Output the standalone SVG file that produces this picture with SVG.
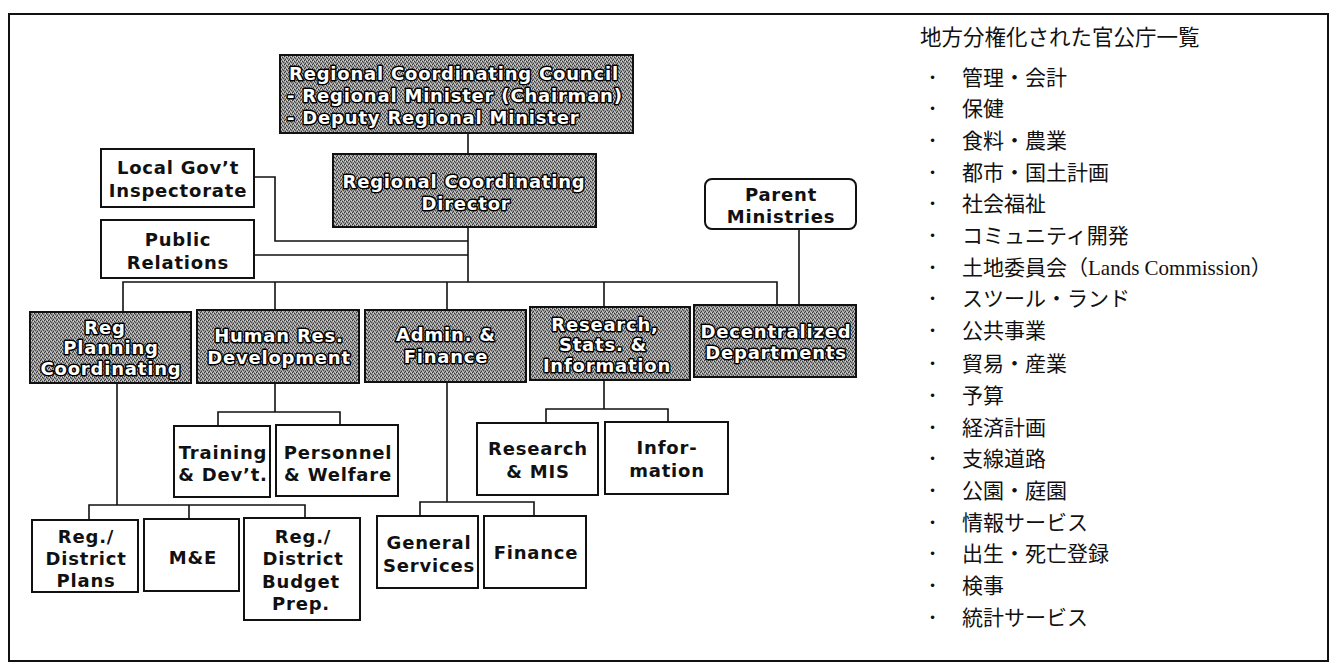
<svg xmlns="http://www.w3.org/2000/svg" width="1335" height="663" viewBox="0 0 1335 663">
<defs>
<pattern id="stip" width="4" height="4" patternUnits="userSpaceOnUse">
<rect width="4" height="4" fill="#959595"/>
<rect x="0" y="0" width="1" height="1" fill="#333"/>
<rect x="2" y="1" width="1" height="1" fill="#333"/>
<rect x="1" y="3" width="1" height="1" fill="#3c3c3c"/>
<rect x="3" y="2" width="1" height="1" fill="#505050"/>
<rect x="1" y="1" width="1" height="1" fill="#d8d8d8"/>
<rect x="3" y="0" width="1" height="1" fill="#d0d0d0"/>
<rect x="2" y="3" width="1" height="1" fill="#c8c8c8"/>
</pattern>
<style>
.dark{fill:url(#stip);stroke:#111;stroke-width:2}
.box{fill:#fff;stroke:#111;stroke-width:2}
.dt{font-family:"DejaVu Sans",Verdana,sans-serif;font-weight:bold;font-size:18px;letter-spacing:0.8px;fill:#fff;stroke:#000;stroke-width:3px;paint-order:stroke;stroke-linejoin:round;text-anchor:middle}
.wt{font-family:"DejaVu Sans",Verdana,sans-serif;font-weight:bold;font-size:18px;letter-spacing:0.8px;fill:#111;text-anchor:middle}
.ln{fill:none;stroke:#111;stroke-width:1.6}
.jp{font-family:"Noto Sans CJK JP",sans-serif;font-size:21px;fill:#111}
.bl{font-family:"DejaVu Sans",sans-serif;font-size:12px;fill:#111}
.lat{font-family:"Liberation Serif","Noto Sans CJK JP",serif;font-size:21px}
</style>
</defs>
<rect x="9" y="14" width="1319" height="647" fill="none" stroke="#111" stroke-width="2"/>

<g id="connectors">
<path class="ln" d="M468 133V154"/>
<path class="ln" d="M468 227V282"/>
<path class="ln" d="M254 177H275V241H468"/>
<path class="ln" d="M254 255H468"/>
<path class="ln" d="M123 312V282H777V305"/>
<path class="ln" d="M275 282V311"/>
<path class="ln" d="M447 282V310"/>
<path class="ln" d="M604 282V307"/>
<path class="ln" d="M799 229V305"/>
<path class="ln" d="M275 384V412"/>
<path class="ln" d="M218 426V412H340V425"/>
<path class="ln" d="M117 383V505"/>
<path class="ln" d="M89 520V505H305V518"/>
<path class="ln" d="M189 505V519"/>
<path class="ln" d="M447 382V502"/>
<path class="ln" d="M420 516V502H534V516"/>
<path class="ln" d="M604 380V409"/>
<path class="ln" d="M546 423V409H668V422"/>
</g>

<g id="council">
<rect class="dark" x="280" y="55" width="353" height="78"/>
<text class="dt" style="text-anchor:start" x="289" y="80">Regional Coordinating Council</text>
<text class="dt" style="text-anchor:start" x="287" y="102">- Regional Minister (Chairman)</text>
<text class="dt" style="text-anchor:start" x="287" y="124">- Deputy Regional Minister</text>
</g>
<g id="director">
<rect class="dark" x="333" y="154" width="263" height="73"/>
<text class="dt" x="464" y="188">Regional Coordinating</text>
<text class="dt" x="466" y="210">Director</text>
</g>
<g id="inspectorate">
<rect class="box" x="101" y="149" width="153" height="58"/>
<text class="wt" x="178" y="174">Local Gov’t</text>
<text class="wt" x="178" y="197">Inspectorate</text>
</g>
<g id="public-relations">
<rect class="box" x="101" y="220" width="153" height="58"/>
<text class="wt" x="178" y="246">Public</text>
<text class="wt" x="178" y="269">Relations</text>
</g>
<g id="parent-ministries">
<rect class="box" x="705" y="179" width="151" height="50" rx="7"/>
<text class="wt" x="781" y="201">Parent</text>
<text class="wt" x="781" y="223">Ministries</text>
</g>

<g id="reg-planning">
<rect class="dark" x="30" y="312" width="161" height="71"/>
<text class="dt" x="105" y="334">Reg</text>
<text class="dt" x="111" y="354">Planning</text>
<text class="dt" x="111" y="375">Coordinating</text>
</g>
<g id="human-res">
<rect class="dark" x="197" y="310" width="162" height="73"/>
<text class="dt" x="279" y="342">Human Res.</text>
<text class="dt" x="279" y="364">Development</text>
</g>
<g id="admin-finance">
<rect class="dark" x="365" y="310" width="161" height="72"/>
<text class="dt" x="446" y="341">Admin. &amp;</text>
<text class="dt" x="446" y="363">Finance</text>
</g>
<g id="research-stats">
<rect class="dark" x="530" y="307" width="160" height="73"/>
<text class="dt" x="605" y="331">Research,</text>
<text class="dt" x="603" y="351">Stats. &amp;</text>
<text class="dt" x="607" y="372">Information</text>
</g>
<g id="decentralized">
<rect class="dark" x="694" y="305" width="162" height="72"/>
<text class="dt" x="776" y="338">Decentralized</text>
<text class="dt" x="776" y="359">Departments</text>
</g>

<g id="training">
<rect class="box" x="174" y="426" width="96" height="71"/>
<text class="wt" x="223" y="459">Training</text>
<text class="wt" x="223" y="481">&amp; Dev’t.</text>
</g>
<g id="personnel">
<rect class="box" x="276" y="425" width="122" height="71"/>
<text class="wt" x="338" y="459">Personnel</text>
<text class="wt" x="338" y="481">&amp; Welfare</text>
</g>
<g id="district-plans">
<rect class="box" x="32" y="520" width="106" height="72"/>
<text class="wt" x="86" y="543">Reg./</text>
<text class="wt" x="86" y="565">District</text>
<text class="wt" x="86" y="587">Plans</text>
</g>
<g id="me">
<rect class="box" x="144" y="519" width="95" height="72"/>
<text class="wt" x="193" y="564">M&amp;E</text>
</g>
<g id="budget-prep">
<rect class="box" x="244" y="518" width="116" height="102"/>
<text class="wt" x="303" y="543">Reg./</text>
<text class="wt" x="303" y="565">District</text>
<text class="wt" x="301" y="588">Budget</text>
<text class="wt" x="301" y="610">Prep.</text>
</g>
<g id="general-services">
<rect class="box" x="377" y="516" width="101" height="72"/>
<text class="wt" x="429" y="549">General</text>
<text class="wt" x="429" y="572">Services</text>
</g>
<g id="finance">
<rect class="box" x="484" y="516" width="102" height="72"/>
<text class="wt" x="536" y="559">Finance</text>
</g>
<g id="research-mis">
<rect class="box" x="477" y="423" width="121" height="72"/>
<text class="wt" x="538" y="455">Research</text>
<text class="wt" x="538" y="478">&amp; MIS</text>
</g>
<g id="information">
<rect class="box" x="605" y="422" width="123" height="72"/>
<text class="wt" x="667" y="454">Infor-</text>
<text class="wt" x="667" y="477">mation</text>
</g>

<g id="list">
<text class="jp" x="920" y="45" style="font-size:21.5px">地方分権化された官公庁一覧</text>
<g class="bl">
<text x="929" y="82">•</text><text x="929" y="113">•</text><text x="929" y="145">•</text><text x="929" y="177">•</text><text x="929" y="208">•</text><text x="929" y="240">•</text><text x="929" y="272">•</text><text x="929" y="303">•</text><text x="929" y="335">•</text><text x="929" y="368">•</text><text x="929" y="400">•</text><text x="929" y="432">•</text><text x="929" y="463">•</text><text x="929" y="495">•</text><text x="929" y="527">•</text><text x="929" y="558">•</text><text x="929" y="590">•</text><text x="929" y="622">•</text>
</g>
<text class="jp" x="962" y="85">管理・会計</text>
<text class="jp" x="962" y="116">保健</text>
<text class="jp" x="962" y="148">食料・農業</text>
<text class="jp" x="962" y="180">都市・国土計画</text>
<text class="jp" x="962" y="211">社会福祉</text>
<text class="jp" x="962" y="243">コミュニティ開発</text>
<text class="jp" x="962" y="275">土地委員会（<tspan class="lat">Lands Commission</tspan>）</text>
<text class="jp" x="962" y="306">スツール・ランド</text>
<text class="jp" x="962" y="338">公共事業</text>
<text class="jp" x="962" y="371">貿易・産業</text>
<text class="jp" x="962" y="403">予算</text>
<text class="jp" x="962" y="435">経済計画</text>
<text class="jp" x="962" y="466">支線道路</text>
<text class="jp" x="962" y="498">公園・庭園</text>
<text class="jp" x="962" y="530">情報サービス</text>
<text class="jp" x="962" y="561">出生・死亡登録</text>
<text class="jp" x="962" y="593">検事</text>
<text class="jp" x="962" y="625">統計サービス</text>
</g>
</svg>
